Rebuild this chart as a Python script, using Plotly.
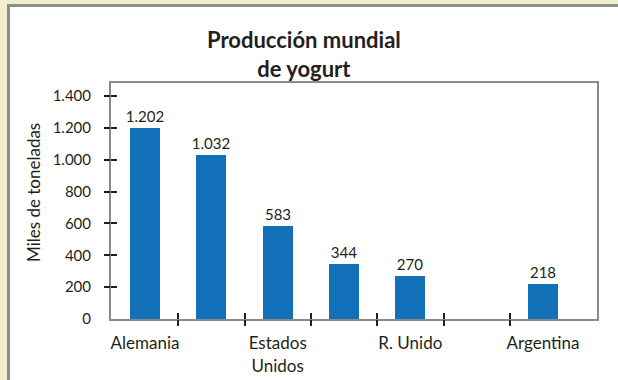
import plotly.graph_objects as go

# Producción mundial de yogurt (miles de toneladas)
slots = [1, 2, 3, 4, 5, 7]
values = [1202, 1032, 583, 344, 270, 218]
label_slots = [1, 3, 5, 7]
label_text = ["Alemania", "Estados<br>Unidos", "R. Unido", "Argentina"]
divider_slots = [1.5, 2.5, 3.5, 4.5, 5.5, 6.5]
y_ticks = [0, 200, 400, 600, 800, 1000, 1200, 1400]
title_lines = ["Producción mundial", "de yogurt"]

W, H = 618, 380
L, R, T, B = 111, 21, 83, 61
PW, PH = W - L - R, H - T - B

BAR = "#1170b8"
FRAME = "#8a8a8a"
INK = "#231f20"
BEIGE = "#f2edcf"
FONT = "Lato"

X_RANGE = [0.487, 7.814]
Y_RANGE = [0, 1482]


def px_x(p):
    return (p - L) / PW


def px_y(p):
    return (H - B - p) / PH


fig = go.Figure()
fig.add_trace(go.Bar(
    x=slots, y=values, width=0.45,
    marker=dict(color=BAR, line=dict(width=0)),
    texttemplate="%{y:,}", textposition="outside",
    textfont=dict(family=FONT, size=15, color=INK),
    constraintext="none",
    cliponaxis=False, hoverinfo="skip",
))
# empty traces that carry the tick-only overlay axes
for xa, ya in [("x2", "y"), ("x3", "y"), ("x", "y2"), ("x", "y3")]:
    fig.add_trace(go.Scatter(x=[], y=[], xaxis=xa, yaxis=ya, showlegend=False))

tick_common = dict(tickcolor=INK, tickwidth=2, ticklen=6, automargin=False,
                   showticklabels=False, showgrid=False, zeroline=False,
                   showline=False)

fig.update_layout(
    template="none",
    width=W, height=H,
    margin=dict(l=L, r=R, t=T, b=B, pad=0, autoexpand=False),
    paper_bgcolor="white", plot_bgcolor="white",
    separators=",.",
    showlegend=False,
    bargap=0,
    font=dict(family=FONT, size=15, color=INK),
    xaxis=dict(
        range=X_RANGE, tickvals=label_slots, ticktext=label_text,
        ticks="", showgrid=False, zeroline=False, automargin=False,
        showline=True, mirror=True, linecolor=FRAME, linewidth=2,
        tickfont=dict(family=FONT, size=17, color=INK),
        ticklabelstandoff=8,
    ),
    xaxis2=dict(range=X_RANGE, overlaying="x", anchor="y", side="bottom",
                tickvals=divider_slots, ticks="outside", **tick_common),
    xaxis3=dict(range=X_RANGE, overlaying="x", anchor="y", side="bottom",
                tickvals=divider_slots, ticks="inside", **tick_common),
    yaxis=dict(
        range=Y_RANGE, tickvals=y_ticks, tickformat=",d",
        ticks="", showgrid=False, zeroline=False, automargin=False,
        showline=True, mirror=True, linecolor=FRAME, linewidth=2,
        tickfont=dict(family=FONT, size=15, color=INK),
        ticklabelstandoff=15,
    ),
    yaxis2=dict(range=Y_RANGE, overlaying="y", anchor="x", side="left",
                tickvals=y_ticks[1:], ticks="outside", **tick_common),
    yaxis3=dict(range=Y_RANGE, overlaying="y", anchor="x", side="left",
                tickvals=y_ticks[1:], ticks="inside", **tick_common),
    annotations=[
        dict(text="<b>" + "<br>".join(title_lines) + "</b>",
             xref="paper", yref="paper", x=px_x(304), y=px_y(54),
             xanchor="center", yanchor="middle", showarrow=False,
             font=dict(family=FONT, size=22, color=INK)),
        dict(text="Miles de toneladas", textangle=-90,
             xref="paper", yref="paper", x=px_x(33), y=px_y(193),
             xanchor="center", yanchor="middle", showarrow=False,
             font=dict(family=FONT, size=17, color=INK)),
    ],
    shapes=[
        # beige page edge with a grey rule along the top and left
        dict(type="rect", xref="paper", yref="paper", layer="above",
             x0=px_x(0), x1=px_x(W), y0=px_y(0), y1=px_y(4),
             fillcolor=BEIGE, line=dict(width=0)),
        dict(type="rect", xref="paper", yref="paper", layer="above",
             x0=px_x(0), x1=px_x(7), y0=px_y(0), y1=px_y(H),
             fillcolor=BEIGE, line=dict(width=0)),
        dict(type="rect", xref="paper", yref="paper", layer="above",
             x0=px_x(7), x1=px_x(W), y0=px_y(4), y1=px_y(7),
             fillcolor="#8c8c8c", line=dict(width=0)),
        dict(type="rect", xref="paper", yref="paper", layer="above",
             x0=px_x(7), x1=px_x(10), y0=px_y(4), y1=px_y(H),
             fillcolor="#8c8c8c", line=dict(width=0)),
    ],
)

fig.write_html("out.html")
